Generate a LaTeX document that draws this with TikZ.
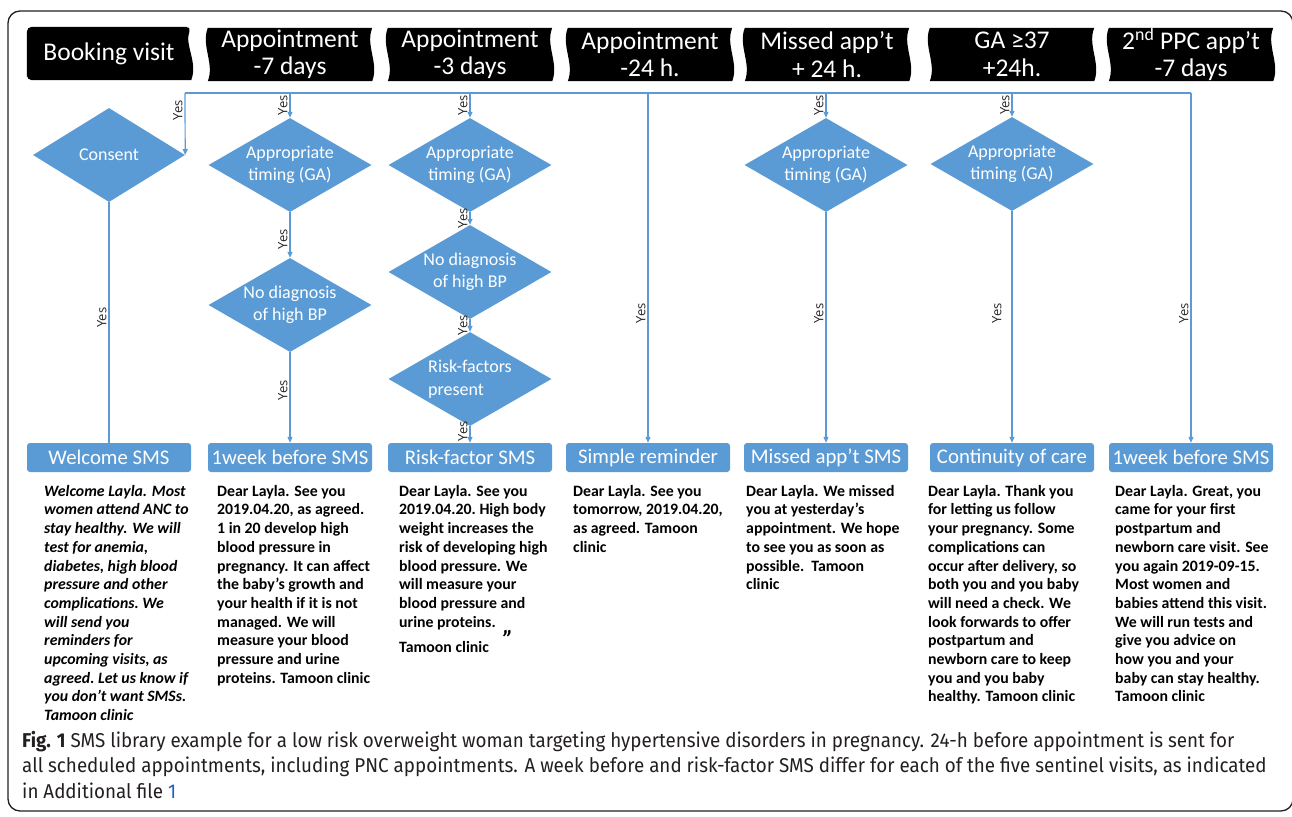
\documentclass[tikz,border=0pt]{standalone}
\usepackage{fontspec}
\setmainfont{Carlito}
\newfontfamily\yesfont{Open Sans}
\newfontfamily\capfont[FakeStretch=0.94]{Fira Sans}
\usetikzlibrary{shapes.geometric,arrows.meta,positioning,backgrounds}
\definecolor{msblue}{HTML}{5B9BD5}
\definecolor{linkblue}{HTML}{1F5FBF}
\definecolor{capgray}{HTML}{231F20}

\begin{document}
\begin{tikzpicture}[x=1pt, y=-1pt,
  banner/.style={rectangle, text=white, align=center, minimum width=164pt, minimum height=53pt, inner sep=0pt, font=\fontsize{25.5}{27.5}\selectfont},
  decision/.style={diamond, fill=msblue, minimum width=163pt, minimum height=94pt, inner sep=0pt},
  dtext/.style={text=white, align=center, inner sep=0pt, font=\fontsize{18}{22.5}\selectfont},
  smsbox/.style={rectangle, rounded corners=3pt, fill=msblue, text=white, minimum width=164pt, minimum height=29pt, inner sep=0pt, font=\fontsize{20.8}{22}\selectfont},
  smstext/.style={anchor=north west, align=left, inner sep=0pt, font=\fontsize{15.8}{18.7}\selectfont\bfseries},
  flow/.style={msblue, line width=1.2pt, -{Triangle[length=6pt,width=5pt]}},
  link/.style={msblue, line width=1.2pt},
  yes/.style={rotate=90, anchor=south, inner sep=2pt, text=black!85, font=\yesfont\fontsize{13}{13}\selectfont}]

  \useasboundingbox (0,0) rectangle (1292,816);
  \draw[capgray, line width=1.3pt, rounded corners=12pt] (8,11) rectangle (1293,811);

  % time points
  \node[banner] (hbook) at (109,53.5) {Booking visit};
  \node[banner] (h7) at (290,54.5) {Appointment\\-7 days};
  \node[banner] (h3) at (470,54.5) {Appointment\\-3 days};
  \node[banner] (h24) at (650,54.5) {Appointment\\-24 h.};
  \node[banner] (hmis) at (827,54.5) {Missed app’t\\+ 24 h.};
  \node[banner] (hga) at (1012,54.5) {GA ≥37\\+24h.};
  \node[banner] (hppc) at (1191,54.5) {2\textsuperscript{nd} PPC app’t\\-7 days};

  \begin{scope}[on background layer]
    \fill[black, rounded corners=5pt] (hbook.south west) -- (hbook.north west) -- (hbook.north east) [sharp corners] .. controls +(-7,18) and +(7,-18) .. (hbook.south east) [rounded corners=5pt] -- (hbook.south west) -- cycle;
    \foreach \h in {h7,h3,h24,hmis,hga,hppc}
      \fill[black] (\h.north west) -- (\h.north east) .. controls +(-7,18) and +(7,-18) .. (\h.south east) -- (\h.south west) .. controls +(7,-18) and +(-7,18) .. (\h.north west) -- cycle;
  \end{scope}

  % checks
  \node[decision, minimum width=152pt, label={[dtext]center:Consent}] (cons) at (109,155) {};
  \node[decision, label={[dtext]center:Appropriate\\timing (GA)}] (ga7) at (290,165) {};
  \node[decision, below of=ga7, node distance=140pt, label={[dtext]center:No diagnosis\\of high BP}] (bp7) {};
  \node[decision, label={[dtext]center:Appropriate\\timing (GA)}] (ga3) at (470,165) {};
  \node[decision, below of=ga3, node distance=107pt, label={[dtext]center:No diagnosis\\of high BP}] (bp3) {};
  \node[decision, below of=bp3, node distance=107pt, label={[dtext, align=left]center:Risk-factors\\present}] (rf3) {};
  \node[decision, label={[dtext]center:Appropriate\\timing (GA)}] (gamis) at (826,165) {};
  \node[decision, label={[dtext]center:Appropriate\\timing (GA)}] (gaga) at (1012,164) {};

  % messages
  \node[smsbox] (wel) at (109,457.5) {Welcome SMS};
  \node[smsbox] (wk7) at (290,457.5) {1week before SMS};
  \node[smsbox] (rfs) at (470,457.5) {Risk-factor SMS};
  \node[smsbox] (sim) at (648,457.5) {Simple reminder};
  \node[smsbox] (mis) at (826,457.5) {Missed app’t SMS};
  \node[smsbox] (coc) at (1012,457.5) {Continuity of care};
  \node[smsbox] (wkp) at (1191,457.5) {1week before SMS};

  \node[smstext, font=\fontsize{15.8}{18.7}\selectfont\bfseries\itshape] (twel) at (44,485) {Welcome Layla. Most\\women attend ANC to\\stay healthy. We will\\test for anemia,\\diabetes, high blood\\pressure and other\\complications.\ We\\will send you\\reminders for\\upcoming\ visits, as\\agreed.\ Let us know if\\you don’t want SMSs.\\Tamoon clinic};
  \node[smstext] (twk7) at (217,485) {Dear Layla. See you\\2019.04.20,\ as agreed.\\1 in 20 develop high\\blood pressure in\\pregnancy. It can affect\\the baby’s growth and\\your health if it is not\\managed. We will\\measure your blood\\pressure and urine\\proteins. Tamoon clinic};
  \node[smstext] (trfs) at (399,485) {Dear Layla. See you\\2019.04.20.\ High body\\weight increases the\\risk of developing high\\blood pressure. We\\will measure your\\blood pressure and\\urine proteins.\\Tamoon clinic\hspace{14pt}\raisebox{5pt}{\itshape\fontsize{24}{24}\selectfont "}};
  \node[smstext] (tsim) at (573,485) {Dear Layla. See you\\tomorrow, 2019.04.20,\\as agreed. Tamoon\\clinic};
  \node[smstext] (tmis) at (746,485) {Dear Layla. We missed\\you at yesterday’s\\appointment. We hope\\to see you as soon as\\possible.\ \ Tamoon\\clinic};
  \node[smstext] (tcoc) at (928,485) {Dear Layla. Thank you\\for letting us follow\\your pregnancy. Some\\complications can\\occur after delivery, so\\both you and you baby\\will need a check. We\\look forwards to offer\\postpartum and\\newborn care to keep\\you and you baby\\healthy. Tamoon clinic};
  \node[smstext] (twkp) at (1115,485) {Dear Layla. Great, you\\came for your first\\postpartum and\\newborn care visit. See\\you again 2019-09-15.\\Most women and\\babies attend this visit.\\We will run tests and\\give you advice on\\how you and your\\baby can stay healthy.\\Tamoon clinic};

  % connectors
  \coordinate (bus) at (185,93);
  \coordinate (busend) at (wkp.north |- bus);
  \draw[link] (bus) -- (busend);
  \draw[flow] (bus) -- node[yes, pos=0.28] {Yes} (cons.east);
  \draw[link] (cons) -- node[yes, pos=0.48] {Yes} (wel);
  \draw[flow] (bus -| ga7.north) -- node[yes] {Yes} (ga7.north);
  \draw[flow] (ga7) -- node[yes, pos=0.6] {Yes} (bp7);
  \draw[flow] (bp7) -- node[yes, pos=0.42] {Yes} (wk7);
  \draw[flow] (bus -| ga3.north) -- node[yes] {Yes} (ga3.north);
  \draw[flow] (ga3) -- node[yes] {Yes} (bp3);
  \draw[flow] (bp3) -- node[yes] {Yes} (rf3);
  \draw[flow] (rf3) -- node[yes, pos=0.3] {Yes} (rfs);
  \draw[flow] (bus -| sim.north) -- node[yes, pos=0.63] {Yes} (sim.north);
  \draw[flow] (bus -| gamis.north) -- node[yes] {Yes} (gamis.north);
  \draw[flow] (gamis) -- node[yes, pos=0.44] {Yes} (mis);
  \draw[flow] (bus -| gaga.north) -- node[yes] {Yes} (gaga.north);
  \draw[flow] (gaga) -- node[yes, pos=0.44, inner sep=10pt] {Yes} (coc);
  \draw[flow] (busend) -- node[yes, pos=0.63] {Yes} (wkp.north);

  % caption
  \node[anchor=north west, align=left, inner sep=0pt, text=capgray, font=\capfont\fontsize{20}{25.5}\selectfont] (cap) at (22,731) {\textbf{Fig. 1} SMS library example for a low risk overweight woman targeting hypertensive disorders in pregnancy. 24-h before appointment is sent for\\all scheduled appointments, including PNC appointments. A week before and risk-factor SMS differ for each of the five sentinel visits, as indicated\\in Additional file \textcolor{linkblue}{1}};
\end{tikzpicture}
\end{document}
